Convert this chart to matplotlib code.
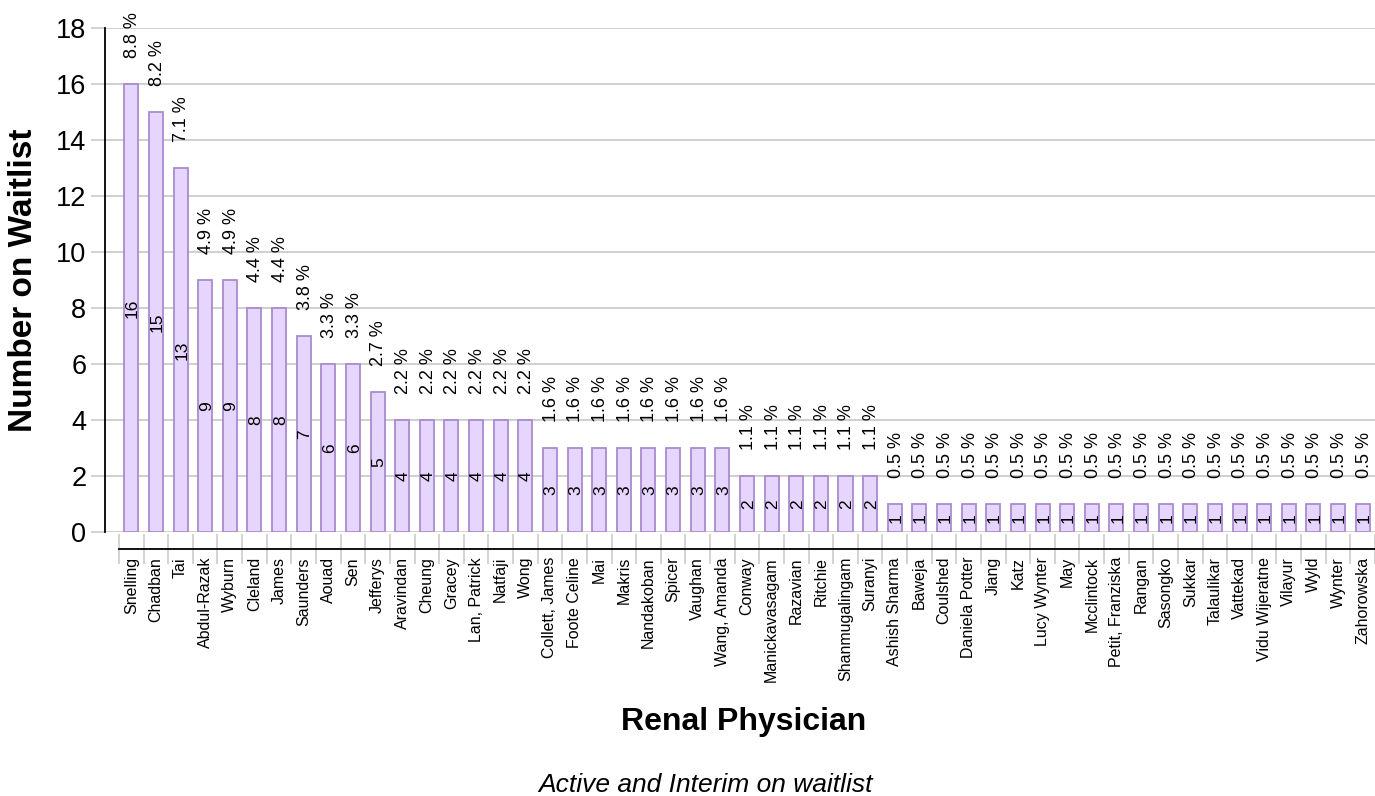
import numpy as np
import matplotlib.pyplot as plt

plt.rcParams['font.family'] = ['Liberation Sans', 'DejaVu Sans']

physicians = [
    "Snelling", "Chadban", "Tai", "Abdul-Razak", "Wyburn", "Cleland", "James",
    "Saunders", "Aouad", "Sen", "Jefferys", "Aravindan", "Cheung", "Gracey",
    "Lan, Patrick", "Natfaji", "Wong", "Collett, James", "Foote Celine", "Mai",
    "Makris", "Nandakoban", "Spicer", "Vaughan", "Wang, Amanda", "Conway",
    "Manickavasagam", "Razavian", "Ritchie", "Shanmugalingam", "Suranyi",
    "Ashish Sharma", "Baweja", "Coulshed", "Daniela Potter", "Jiang", "Katz",
    "Lucy Wynter", "May", "Mcclintock", "Petit, Franziska", "Rangan", "Sasongko",
    "Sukkar", "Talaulikar", "Vattekad", "Vidu Wijeratne", "Vilayur", "Wyld",
    "Wynter", "Zahorowska",
]
waitlist = [
    16, 15, 13, 9, 9, 8, 8, 7, 6, 6, 5, 4, 4, 4, 4, 4, 4,
    3, 3, 3, 3, 3, 3, 3, 3, 2, 2, 2, 2, 2, 2,
    1, 1, 1, 1, 1, 1, 1, 1, 1, 1, 1, 1, 1, 1, 1, 1, 1, 1, 1, 1,
]

total = sum(waitlist)
x = np.arange(len(physicians))

fig = plt.figure(figsize=(13.75, 7.96), dpi=100)
ax = fig.add_axes([105 / 1375, 264 / 796, 1270 / 1375, 504 / 796])

ax.bar(x, waitlist, width=0.57, color="#e6d5fc", edgecolor="#a98bd0",
       linewidth=1.3, zorder=3)

for xi, v in zip(x, waitlist):
    ax.text(xi + 0.05, v / 2, str(v), rotation=90, ha="center", va="center",
            fontsize=12.5, color="black", zorder=4)
    ax.annotate(f"{100 * v / total:.1f} %", (xi, v), xytext=(1, 19),
                textcoords="offset points", rotation=90, ha="center",
                va="bottom", fontsize=13)

step = 24.68
ax.set_xlim(-0.5 - 14 / step, -0.5 - 14 / step + 1270 / step)
ax.set_ylim(0, 18)
ax.set_yticks(range(0, 19, 2))
ax.tick_params(axis="y", labelsize=19.5, length=10, color="#cccccc", width=1.2)
ax.grid(axis="y", color="#cccccc", linewidth=1.3, zorder=0)

ax.set_xticks(np.arange(-0.5, len(physicians)), minor=False)
ax.set_xticklabels([])
ax.set_xticks(x, minor=True)
ax.set_xticklabels(physicians, minor=True)
ax.tick_params(axis="x", which="major", direction="inout", length=22,
               color="#cccccc", width=1.2)
ax.tick_params(axis="x", which="minor", length=0, pad=6, labelrotation=90,
               labelsize=11.5)

for s in ["top", "right"]:
    ax.spines[s].set_visible(False)
ax.spines["left"].set_bounds(0, 18)
ax.spines["left"].set_linewidth(1.3)
ax.spines["bottom"].set_position(("outward", 12))
ax.spines["bottom"].set_bounds(-0.5, len(physicians) - 0.5)
ax.spines["bottom"].set_linewidth(1.3)

ax.set_ylabel("Number on Waitlist", fontsize=24, fontweight="bold", labelpad=12)
fig.text(0.541, 1 - 722 / 796, "Renal Physician", fontsize=23,
         fontweight="bold", ha="center", va="center")
fig.text(0.513, 1 - 785 / 796, "Active and Interim on waitlist", fontsize=19,
         style="italic", ha="center", va="center")

fig.savefig("out.png", dpi=100)
